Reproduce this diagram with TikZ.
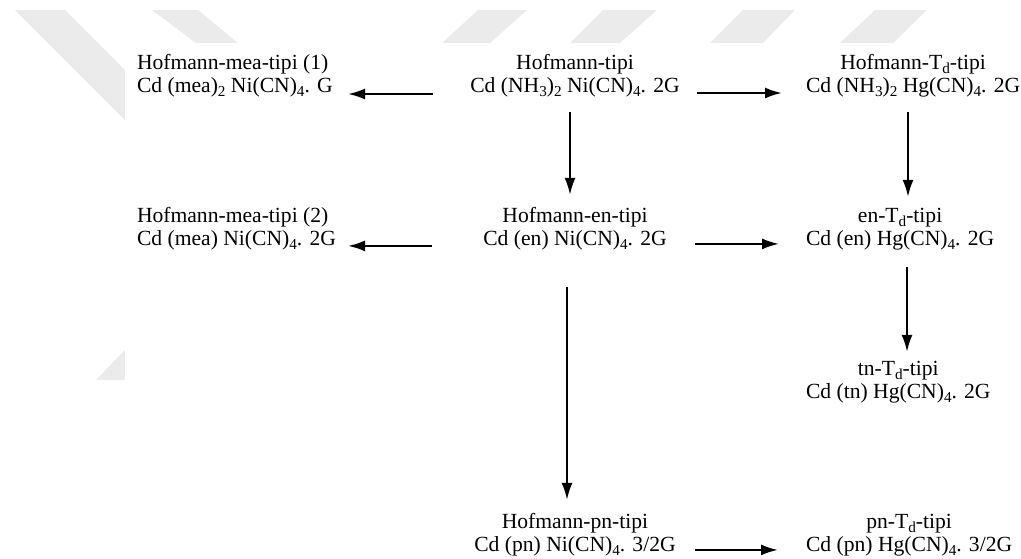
\documentclass[tikz,border=0pt]{standalone}
\usepackage{fontspec}
\setmainfont{Liberation Serif}
\usetikzlibrary{arrows.meta}

% chemical subscript: smaller figure, dropped below the baseline
\newcommand{\sub}[1]{\raisebox{-2.3pt}{\fontsize{7.6pt}{8pt}\selectfont #1}}

\tikzset{
  blk/.style={inner sep=0pt, outer sep=0pt,
    font={\fontsize{10.8pt}{11.5pt}\selectfont}},
  lblk/.style={blk, align=left, anchor=north west},
  cblk/.style={blk, align=center, anchor=north},
  rblk/.style={blk, align=center, anchor=north west},
  arr/.style={line width=1.1pt, -{Latex[length=8.5pt,width=5.5pt]}},
  band/.style={fill=black!8, draw=none}
}

\begin{document}
\begin{tikzpicture}[x=0.5pt, y=-0.5pt]
\useasboundingbox (0,0) rectangle (1021,558);

% faint background bands
\fill[band] (15,10) -- (65,10) -- (175,120) -- (125,120) -- cycle;
\fill[band] (152,10) -- (198,10) -- (238,43) -- (196,43) -- cycle;
\fill[band] (478,10) -- (527,10) -- (490,43) -- (442,43) -- cycle;
\fill[band] (603,10) -- (657,10) -- (620,43) -- (570,43) -- cycle;
\fill[band] (743,10) -- (795,10) -- (763,43) -- (710,43) -- cycle;
\fill[band] (875,10) -- (927,10) -- (893,43) -- (840,43) -- cycle;
\fill[band] (96,380) -- (125,350) -- (125,380) -- cycle;
\fill[white] (125,43) rectangle (1021,558);

% compounds
\node[lblk] (mea1) at (137,52.9) {\strut Hofmann-mea-tipi (1)\\ \strut Cd (mea)\sub{2} Ni(CN)\sub{4}. G};
\node[cblk] (hof)  at (575,52.9) {\strut Hofmann-tipi\\ \strut Cd (NH\sub{3})\sub{2} Ni(CN)\sub{4}. 2G};
\node[rblk] (hofT) at (806,52.9) {\strut Hofmann-T\sub{d}-tipi\\ \strut Cd (NH\sub{3})\sub{2} Hg(CN)\sub{4}. 2G};

\node[lblk] (mea2) at (137,205.9) {\strut Hofmann-mea-tipi (2)\\ \strut Cd (mea) Ni(CN)\sub{4}. 2G};
\node[cblk] (hofen) at (575,205.9) {\strut Hofmann-en-tipi\\ \strut Cd (en) Ni(CN)\sub{4}. 2G};
\node[rblk] (enT)  at (806,205.9) {\strut en-T\sub{d}-tipi\\ \strut Cd (en) Hg(CN)\sub{4}. 2G};

\node[rblk] (tnT)  at (806,358.9) {\strut tn-T\sub{d}-tipi\\ \strut Cd (tn) Hg(CN)\sub{4}. 2G};

\node[cblk] (hofpn) at (575,511.9) {\strut Hofmann-pn-tipi\\ \strut Cd (pn) Ni(CN)\sub{4}. 3/2G};
\node[rblk] (pnT)  at (806,511.9) {\strut pn-T\sub{d}-tipi\\ \strut Cd (pn) Hg(CN)\sub{4}. 3/2G};

% reactions
\draw[arr] ([shift={(-142,-4.9)}]hof.south) -- ([shift={(211,-4.9)}]mea1.south west);
\draw[arr] ([shift={(122,-5.9)}]hof.south) -- ([shift={(-24,-5.9)}]hofT.south west);
\draw[arr] ([shift={(-5,13)}]hof.south) -- ([shift={(-5,-11)}]hofen.north);
\draw[arr] ([shift={(102,13)}]hofT.south west) -- ([shift={(102,-9)}]enT.north west);

\draw[arr] ([shift={(-143,-6)}]hofen.south) -- ([shift={(211,-6)}]mea2.south west);
\draw[arr] ([shift={(120,-8)}]hofen.south) -- ([shift={(-27,-8)}]enT.south west);
\draw[arr] ([shift={(-8,35)}]hofen.south) -- ([shift={(-8,-12)}]hofpn.north);
\draw[arr] ([shift={(101,15)}]enT.south west) -- ([shift={(101,-7)}]tnT.north west);

\draw[arr] ([shift={(120,-8)}]hofpn.south) -- ([shift={(-28,-8)}]pnT.south west);
\end{tikzpicture}
\end{document}
